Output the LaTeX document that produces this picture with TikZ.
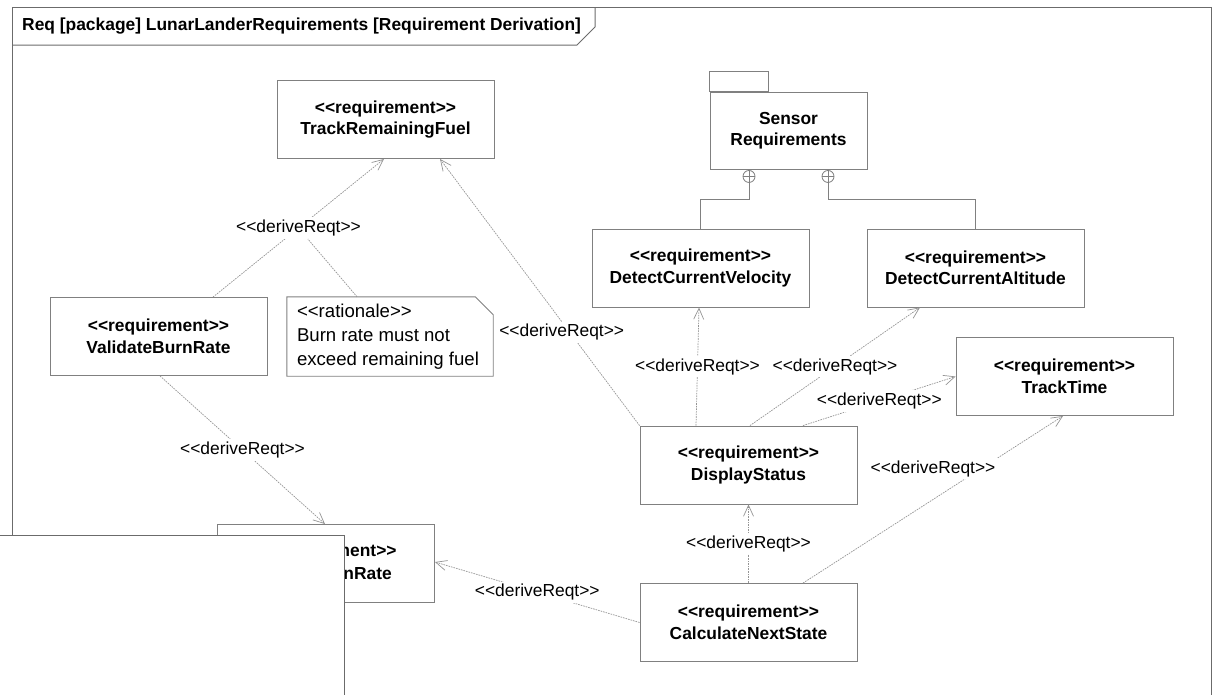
\documentclass[tikz,border=0pt]{standalone}
\usepackage{fontspec}
\setmainfont{Liberation Sans}
\usetikzlibrary{arrows.meta,calc}

\definecolor{boxgray}{gray}{0.5}
\definecolor{linkgray}{gray}{0.58}
\definecolor{framegray}{gray}{0.42}

\begin{document}
\begin{tikzpicture}[x=1pt,y=-1pt,
  reqbox/.style={draw=boxgray, line width=0.9pt, fill=white,
    minimum width=217pt, minimum height=78pt, inner sep=0pt, align=center,
    font=\fontsize{17.4}{21.5}\selectfont\bfseries},
  pkgbox/.style={draw=boxgray, line width=0.9pt, fill=white,
    minimum width=157pt, minimum height=77pt, inner sep=0pt, align=center,
    font=\fontsize{17.4}{21}\selectfont\bfseries},
  derive/.style={draw=linkgray, line width=0.7pt, dash pattern=on 1.6pt off 1pt,
    -{Straight Barb[length=11pt,width=10pt,line width=0.7pt]}},
  anchorline/.style={draw=linkgray, line width=0.7pt, dash pattern=on 1.6pt off 1pt},
  lbl/.style={fill=white, inner sep=2.5pt, font=\fontsize{17.4}{20}\selectfont},
  containment/.style={draw=boxgray, line width=0.9pt},
  plus/.style={circle, draw=boxgray, line width=0.8pt, fill=white,
    minimum size=12pt, inner sep=0pt}
]
\useasboundingbox (0,0) rectangle (1215,694);

% diagram frame and its name tab
\draw[framegray, line width=1pt] (12,710) -- (12,7) -- (1211,7) -- (1211,710);
\draw[framegray, line width=1pt] (12,45) -- (577,45) -- (595,27) -- (595,7);
\node[anchor=west, inner sep=0pt, font=\fontsize{17.4}{20}\selectfont\bfseries]
  (title) at (22,26) {Req [package] LunarLanderRequirements [Requirement Derivation]};

% requirements
\node[reqbox] (trf) at (385.5,119.5) {<{}<requirement>{}>\\TrackRemainingFuel};
\node[reqbox] (dcv) at (700.5,268)   {<{}<requirement>{}>\\DetectCurrentVelocity};
\node[reqbox] (dca) at (975.5,268)   {<{}<requirement>{}>\\DetectCurrentAltitude};
\node[reqbox] (vbr) at (158.5,336.5) {<{}<requirement>{}>\\ValidateBurnRate};
\node[reqbox] (tt)  at (1064.5,376.5){<{}<requirement>{}>\\TrackTime};
\node[reqbox] (ds)  at (748.5,465)   {<{}<requirement>{}>\\DisplayStatus};
\node[reqbox] (cns) at (748.5,622.5) {<{}<requirement>{}>\\CalculateNextState};
\node[reqbox] (br)  at (326,563.5)   {};
\node[inner sep=0pt, font=\fontsize{17.4}{20}\selectfont\bfseries]
  (brst) at (326,552) {<{}<requirement>{}>};
\node[anchor=east, inner sep=0pt, font=\fontsize{17.4}{20}\selectfont\bfseries]
  (brname) at (392,574) {nRate};

% package with containment links
\node[pkgbox] (sensor) at (788.5,130.5) {Sensor\\Requirements};
\draw[boxgray, line width=0.9pt, fill=white] (sensor.north west) rectangle ++(59,-20);
\node[plus] (c1) at ($(sensor.south)+(-39.5,7)$) {};
\node[plus] (c2) at ($(sensor.south)+(39.5,7)$) {};
\draw[boxgray, line width=0.6pt] (c1.north) -- (c1.south) (c1.west) -- (c1.east);
\draw[boxgray, line width=0.6pt] (c2.north) -- (c2.south) (c2.west) -- (c2.east);
\draw[containment] (c1.south) -- ++(0,17) -| (dcv.north);
\draw[containment] (c2.south) -- ++(0,17) -| (dca.north);

% rationale note
\node[minimum width=206pt, minimum height=79pt, inner sep=0pt] (note) at (390,336.5) {};
\draw[boxgray, line width=0.9pt] (note.north west) -- ([xshift=-18pt]note.north east)
  -- ([yshift=-18pt]note.north east) -- (note.south east) -- (note.south west) -- cycle;
\node[anchor=west, inner sep=0pt, align=left, font=\fontsize{18.6}{24}\selectfont]
  (notetext) at ([xshift=10pt]note.west) {<{}<rationale>{}>\\Burn rate must not\\exceed remaining fuel};

% derivation links
\draw[derive] ([xshift=54.5pt]vbr.north) -- node[lbl] (l1) {<{}<deriveReqt>{}>} ([xshift=-1.5pt]trf.south);
\draw[anchorline] ([xshift=-33pt]note.north) -- (l1);
\draw[derive] (ds.north west) -- node[lbl, pos=0.35, xshift=-8pt] (l2) {<{}<deriveReqt>{}>} ([xshift=54.5pt]trf.south);
\draw[derive] ([xshift=-52.5pt]ds.north) -- node[lbl] (l3) {<{}<deriveReqt>{}>} ([xshift=-1.5pt]dcv.south);
\draw[derive] ([xshift=1.5pt]ds.north) -- node[lbl] (l4) {<{}<deriveReqt>{}>} ([xshift=-55.5pt]dca.south);
\draw[derive] ([xshift=54.5pt]ds.north) -- node[lbl] (l5) {<{}<deriveReqt>{}>} (tt.west);
\draw[derive] (cns.north) -- node[lbl] (l6) {<{}<deriveReqt>{}>} (ds.south);
\draw[derive] ([xshift=54.5pt]cns.north) -- node[lbl, yshift=31pt] (l7) {<{}<deriveReqt>{}>} ([xshift=-1.5pt]tt.south);
\draw[derive] (cns.west) -- node[lbl] (l8) {<{}<deriveReqt>{}>} ([yshift=1.5pt]br.east);
\draw[derive] ([xshift=1.5pt]vbr.south) -- node[lbl] (l9) {<{}<deriveReqt>{}>} ([xshift=-1pt]br.north);

% panel lying over the lower left corner
\draw[framegray, line width=1pt, fill=white] (-5,535) rectangle (344,710);
\end{tikzpicture}
\end{document}
